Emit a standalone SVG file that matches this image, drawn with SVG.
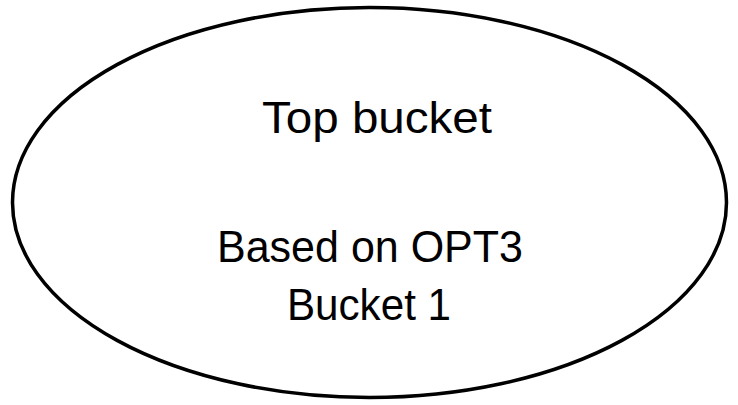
<svg xmlns="http://www.w3.org/2000/svg" width="738" height="405" viewBox="0 0 738 405">
<style>
.n{fill:#fff;stroke:#000;stroke-width:3.5}
.t{font-family:"Liberation Sans",Arial,sans-serif;font-size:44px;fill:#000;text-anchor:middle}
</style>
<rect width="738" height="405" fill="#fff"/>
<g id="top-bucket">
<ellipse class="n" cx="369.5" cy="202.5" rx="357" ry="195"/>
<text class="t" x="377" y="133" textLength="230" lengthAdjust="spacingAndGlyphs">Top bucket</text>
<text class="t" x="370" y="262" textLength="306" lengthAdjust="spacingAndGlyphs">Based on OPT3</text>
<text class="t" x="369" y="320" textLength="164" lengthAdjust="spacingAndGlyphs">Bucket 1</text>
</g>
<g id="connectors"></g>
</svg>
